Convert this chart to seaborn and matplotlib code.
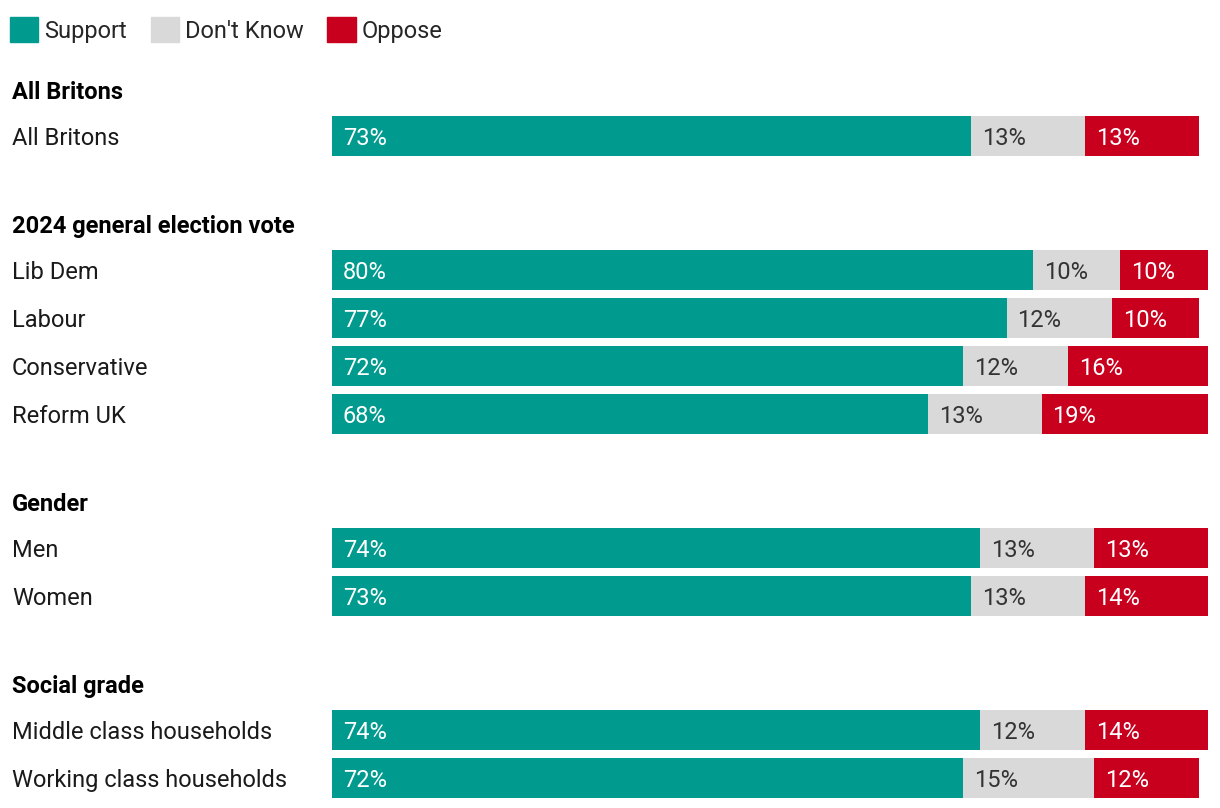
import pandas as pd
import matplotlib.pyplot as plt
import matplotlib.transforms as mtransforms
from matplotlib.patches import Patch
import seaborn as sns

# Datos
grupos = ["All Britons", "2024 general election vote", "Gender", "Social grade"]
filas = [
    ["All Britons"],
    ["Lib Dem", "Labour", "Conservative", "Reform UK"],
    ["Men", "Women"],
    ["Middle class households", "Working class households"],
]
support = [73, 80, 77, 72, 68, 74, 73, 74, 72]
dont_know = [13, 10, 12, 12, 13, 13, 13, 12, 15]
oppose = [13, 10, 10, 16, 19, 13, 14, 14, 12]

# Espaciado vertical (en unidades de fila)
paso_cab = 46 / 48   # cabecera -> primera fila
paso_grupo = 88 / 48  # ultima fila -> siguiente cabecera

pos_cab = []
pos_filas = []
y = 0.0
for i, fs_ in enumerate(filas):
    if i > 0:
        y += paso_grupo
    pos_cab.append(y)
    y += paso_cab
    for j, _ in enumerate(fs_):
        if j > 0:
            y += 1
        pos_filas.append(y)

etiquetas = [f for g in filas for f in g]
df = pd.DataFrame({"fila": etiquetas, "pos": pos_filas, "support": support,
                   "dont_know": dont_know, "oppose": oppose})
df["sd"] = df["support"] + df["dont_know"]
df["total"] = df["sd"] + df["oppose"]

c_sup = "#009B8E"
c_dk = "#D9D9D9"
c_opp = "#C8001E"

sns.set_theme(style="white")
plt.rcParams["font.family"] = ["Roboto", "DejaVu Sans"]

W, H = 1220, 808
fig = plt.figure(figsize=(W / 100, H / 100), dpi=100)
px = 48
top = 90 - px / 2
bottom = 90 + pos_filas[-1] * px + px / 2
ax = fig.add_axes([332 / W, (H - bottom) / H, 876 / W, (bottom - top) / H])

bh = 40 / 48
for col, c in [("total", c_opp), ("sd", c_dk), ("support", c_sup)]:
    sns.barplot(data=df, y="pos", x=col, color=c, native_scale=True, orient="y",
                width=bh, saturation=1, linewidth=0, ax=ax)

ax.set_xlim(0, 100)
ax.set_ylim(pos_filas[-1] + 0.5, -0.5)
ax.set_axis_off()

fs = 17
pad = 1.25
va = "center_baseline"
for _, r in df.iterrows():
    yy = r["pos"]
    ax.text(pad, yy, f"{r['support']}%", color="white", va=va, ha="left", fontsize=fs)
    ax.text(r["support"] + pad, yy, f"{r['dont_know']}%", color="#333333", va=va, ha="left", fontsize=fs)
    ax.text(r["sd"] + pad, yy, f"{r['oppose']}%", color="white", va=va, ha="left", fontsize=fs)

trans = mtransforms.blended_transform_factory(fig.transFigure, ax.transData)
for g, yy in zip(grupos, pos_cab):
    ax.text(12 / W, yy, g, transform=trans, va=va, ha="left",
            fontsize=fs, fontweight="bold", color="black")
for lab, yy in zip(etiquetas, pos_filas):
    ax.text(12 / W, yy, lab, transform=trans, va=va, ha="left",
            fontsize=fs, color="#1a1a1a")

# Leyenda
handles = [Patch(color=c_sup, label="Support"), Patch(color=c_dk, label="Don't Know"),
           Patch(color=c_opp, label="Oppose")]
fig.legend(handles=handles, loc="center left", bbox_to_anchor=(10 / W, 1 - 30 / H),
           ncol=3, frameon=False, fontsize=fs, handlelength=1.2, handleheight=1.2,
           handletextpad=0.25, columnspacing=1.0, borderaxespad=0, borderpad=0)

fig.savefig("out.png", dpi=100)
